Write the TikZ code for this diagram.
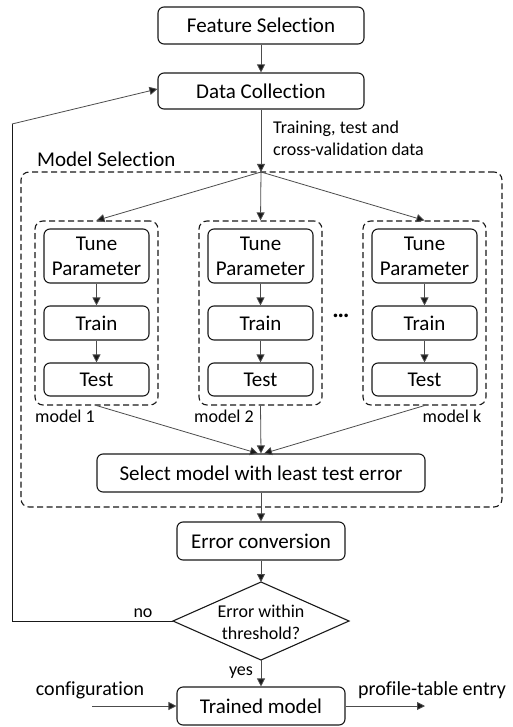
\documentclass[tikz,border=0pt]{standalone}
\usepackage{fontspec}
\setmainfont{Carlito}[Ligatures={NoCommon}]
\usetikzlibrary{arrows.meta}
\begin{document}
\begin{tikzpicture}[x=1pt,y=-1pt,
  box/.style={draw=black!90,line width=1.1pt,rounded corners=6pt,align=center,inner sep=0pt,
    font=\fontsize{21}{25}\selectfont},
  dbox/.style={draw=black!90,line width=1.1pt,rounded corners=8pt,dash pattern=on 6pt off 3.5pt,inner sep=0pt},
  conn/.style={draw=black!70,line width=0.8pt,-{Triangle[length=8pt,width=8pt,fill=black!90]}},
  plain/.style={draw=black!90,line width=1pt},
  lbl/.style={inner sep=0pt,font=\fontsize{18}{22}\selectfont},
  mlbl/.style={inner sep=0pt,font=\fontsize{21}{25}\selectfont}]
\useasboundingbox (0,0) rectangle (513,727);

% top boxes
\node[box,minimum width=206pt,minimum height=37pt] (fs) at (261,25.5) {Feature Selection};
\node[box,minimum width=206pt,minimum height=36pt] (dc) at (261,91) {Data Collection};
\draw[conn] (fs) -- (dc);

% model selection container
\node[dbox,minimum width=481pt,minimum height=335pt] (ms) at (261.5,339.5) {};
\node[mlbl,anchor=base west] (mslbl) at (37,167) {Model Selection};
\coordinate (br) at (261,172);
\draw[conn] (dc) -- (br);
\node[lbl,anchor=north west,align=left] (tdata) at (273,121) {Training, test and\\cross-validation data};

% sub-model containers
\foreach \n/\x in {a/96.5,b/260.5,c/424.5}{
  \node[dbox,minimum width=123pt,minimum height=184pt] (m\n) at (\x,313) {};
  \node[box,minimum width=105pt,minimum height=54pt] (tp\n) at (\x,256) {Tune\\Parameter};
  \node[box,minimum width=105pt,minimum height=34pt] (tr\n) at (\x,323) {Train};
  \node[box,minimum width=105pt,minimum height=33pt] (te\n) at (\x,379.5) {Test};
  \draw[conn] (tp\n) -- (tr\n);
  \draw[conn] (tr\n) -- (te\n);
}
\draw[conn] (br) -- (ma.north);
\draw[conn] (br) -- (mb.north);
\draw[conn] (br) -- (mc.north);
\node[lbl,anchor=base] (l1) at (65,422) {model 1};
\node[lbl,anchor=base] (l2) at (224,422) {model 2};
\node[lbl,anchor=base] (lk) at (452,422) {model k};
\node[inner sep=0pt,font=\fontsize{24}{25}\selectfont\bfseries] (dots) at (341,316) {…};

% select
\node[box,minimum width=328pt,minimum height=38pt] (sel) at (261,473) {Select model with least test error};
\draw[conn] (ma.south) -- ([xshift=-3pt]sel.north);
\draw[conn] (mb.south) -- (sel.north);
\draw[conn] (mc.south) -- ([xshift=3pt]sel.north);

% error conversion
\node[box,minimum width=168pt,minimum height=38pt] (ec) at (261,541) {Error conversion};
\draw[conn] (sel) -- (ec);

% diamond
\coordinate (dt) at (261,582);
\coordinate (dr) at (349,621);
\coordinate (db) at (261,660);
\coordinate (dl) at (173,621);
\draw[plain,line width=1.1pt] (dt) -- (dr) -- (db) -- (dl) -- cycle;
\node[lbl,align=center] (dtext) at (261,622) {Error within\\threshold?};
\draw[conn] (ec) -- (dt);

% trained model
\node[box,minimum width=168pt,minimum height=38pt] (tm) at (261,706) {Trained model};
\draw[conn] (db) -- (tm);
\node[lbl,anchor=base] (yes) at (241,675) {yes};

% loop back
\coordinate (lb) at (12,621);
\coordinate (lt) at (12,124);
\draw[plain] (dl) -- (lb) -- (lt);
\draw[conn] (lt) -- ([yshift=2pt]dc.west);
\node[lbl,anchor=base] (no) at (143,617) {no};

% in/out
\coordinate (cin) at (92,706);
\coordinate (cout) at (425,706);
\draw[conn] (cin) -- (tm);
\draw[conn] (tm) -- (cout);
\node[lbl,font=\fontsize{20}{24}\selectfont,anchor=base] (cfg) at (90,695) {configuration};
\node[lbl,font=\fontsize{20}{24}\selectfont,anchor=base] (pte) at (432,695) {profile-table entry};
\end{tikzpicture}
\end{document}
